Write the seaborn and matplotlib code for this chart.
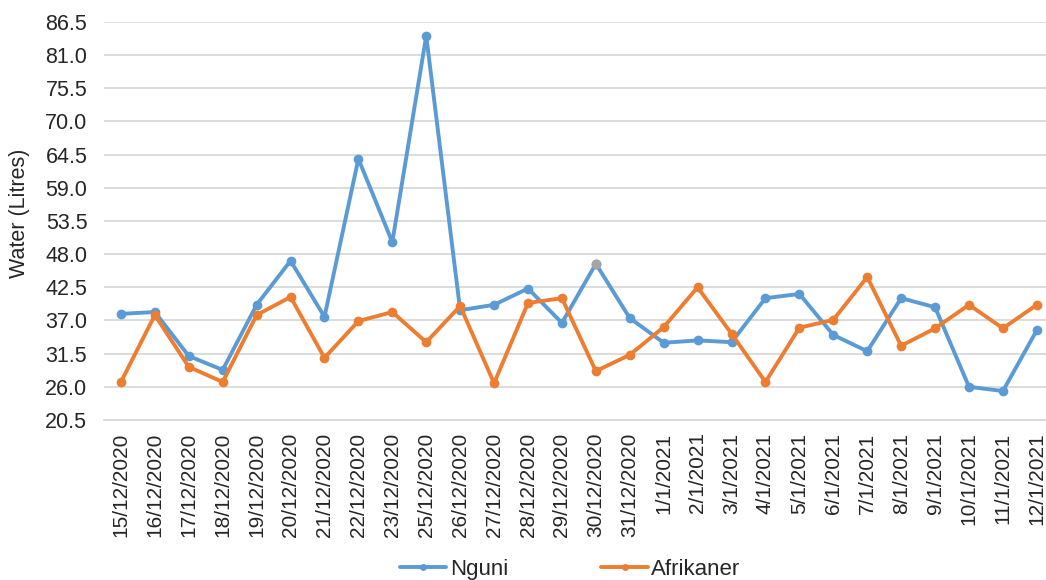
import numpy as np
import pandas as pd
import matplotlib
matplotlib.use("Agg")
import matplotlib.pyplot as plt
import seaborn as sns

dates = ["15/12/2020", "16/12/2020", "17/12/2020", "18/12/2020", "19/12/2020",
         "20/12/2020", "21/12/2020", "22/12/2020", "23/12/2020", "25/12/2020",
         "26/12/2020", "27/12/2020", "28/12/2020", "29/12/2020", "30/12/2020",
         "31/12/2020", "1/1/2021", "2/1/2021", "3/1/2021", "4/1/2021",
         "5/1/2021", "6/1/2021", "7/1/2021", "8/1/2021", "9/1/2021",
         "10/1/2021", "11/1/2021", "12/1/2021"]

nguni = [38.1, 38.4, 31.1, 28.8, 39.6, 46.9, 37.6, 63.8, 50.0, 84.2,
         38.7, 39.6, 42.3, 36.6, 46.4, 37.4, 33.3, 33.7, 33.4, 40.7,
         41.4, 34.6, 31.9, 40.7, 39.2, 26.0, 25.3, 35.4]

afrikaner = [26.8, 37.9, 29.3, 26.8, 37.9, 40.9, 30.8, 36.9, 38.4, 33.4,
             39.4, 26.6, 39.9, 40.7, 28.6, 31.3, 35.9, 42.5, 34.8, 26.8,
             35.8, 37.1, 44.2, 32.8, 35.7, 39.6, 35.7, 39.6]

yticks = [20.5, 26.0, 31.5, 37.0, 42.5, 48.0, 53.5, 59.0, 64.5, 70.0, 75.5, 81.0, 86.5]

series_names = ["Nguni", "Afrikaner"]
colors = {"Nguni": "#5B9BD5", "Afrikaner": "#ED7D31"}

df = pd.DataFrame({
    "pos": np.tile(np.arange(len(dates)), 2),
    "value": nguni + afrikaner,
    "breed": np.repeat(series_names, len(dates)),
})

sns.set_theme(style="white")
plt.rcParams["font.family"] = ["Liberation Sans", "DejaVu Sans"]

fig = plt.figure(figsize=(10.46, 5.80), dpi=100)
ax = fig.add_axes([0.0994, 0.2759, 0.9006, 0.6862])

sns.lineplot(data=df, x="pos", y="value", hue="breed", hue_order=series_names,
             palette=colors, style="breed", markers={"Nguni": "o", "Afrikaner": "o"},
             dashes=False, linewidth=2.8, markersize=7, markeredgewidth=0,
             ax=ax, legend=False)

# the 30/12/2020 Nguni point is shown with a grey marker
i30 = dates.index("30/12/2020")
ax.scatter([i30], [nguni[i30]], s=50, color="#A5A5A5", zorder=5, linewidths=0)

ax.set_xlim(-0.5, len(dates) - 1 + 0.27)
ax.set_ylim(yticks[0], yticks[-1])
ax.set_yticks(yticks)
ax.set_yticklabels([f"{v:.1f}" for v in yticks])
ax.set_xticks(np.arange(len(dates)))
ax.set_xticklabels(dates, rotation=90, ha="center", va="top")

ax.grid(axis="y", color="#D9D9D9", linewidth=1.3)
ax.grid(axis="x", visible=False)
for side in ["top", "right", "left"]:
    ax.spines[side].set_visible(False)
ax.spines["bottom"].set_color("#D9D9D9")
ax.spines["bottom"].set_linewidth(1.3)

ax.tick_params(axis="y", length=0, pad=12, labelsize=15.5, labelcolor="#262626")
ax.tick_params(axis="x", length=0, pad=9, labelsize=15, labelcolor="#262626")

ax.set_xlabel("")
ax.set_ylabel("Water (Litres)", fontsize=15.5, color="#262626")
ax.yaxis.set_label_coords(-0.078, 0.52)

handles = [plt.Line2D([], [], color=colors[n], marker="o", markersize=5,
                      linewidth=2.8, markeredgewidth=0) for n in series_names]
fig.legend(handles, series_names, loc="lower center", bbox_to_anchor=(0.545, -0.034),
           ncol=2, frameon=False, fontsize=16, handlelength=2.1, handletextpad=0.15,
           columnspacing=4.2, labelcolor="#262626")

fig.savefig("out.png", dpi=100)
